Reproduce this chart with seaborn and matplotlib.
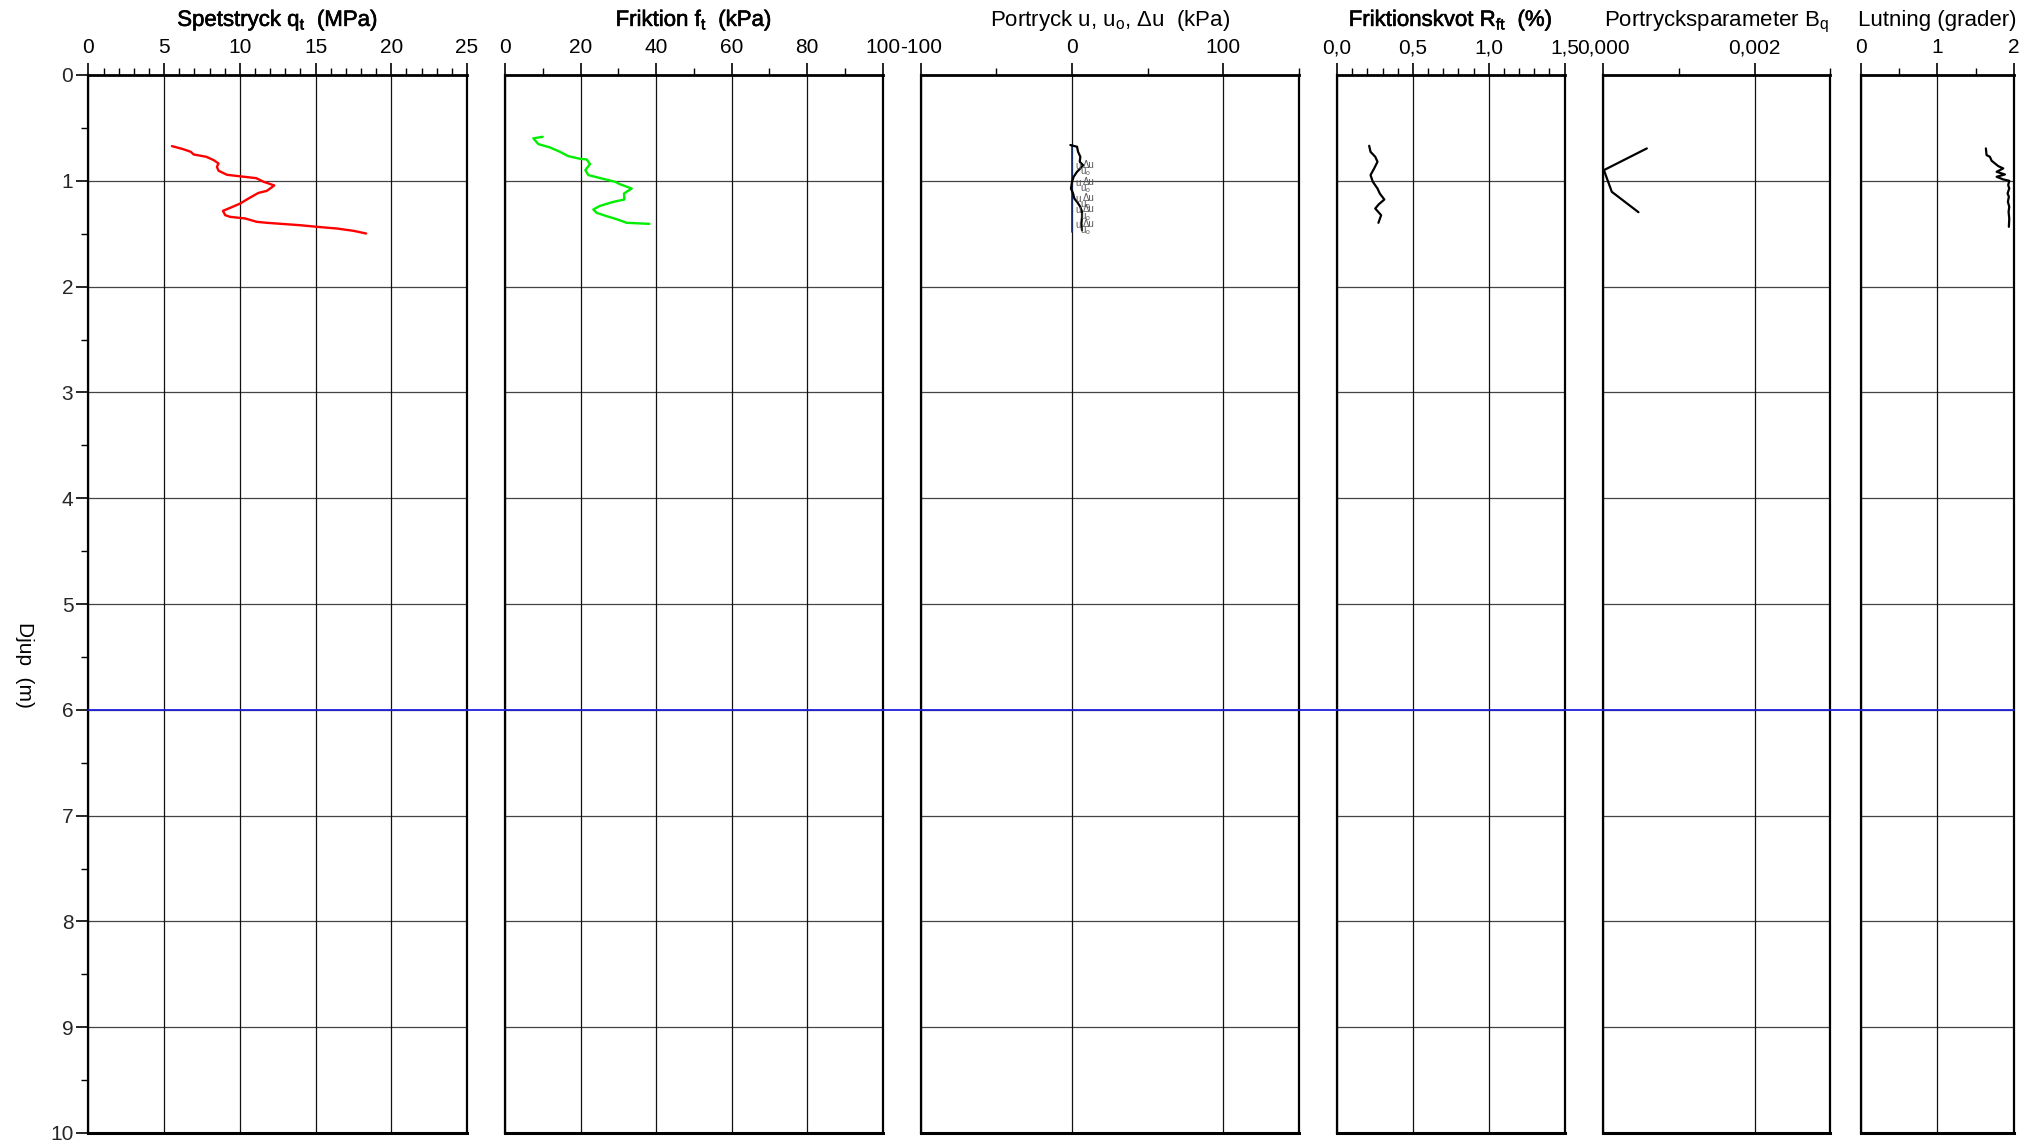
import numpy as np
import pandas as pd
import seaborn as sns
import matplotlib
matplotlib.use("Agg")
import matplotlib.pyplot as plt
from matplotlib.ticker import FixedLocator, FixedFormatter, NullFormatter
import matplotlib.transforms as mtransforms
import matplotlib.patheffects as pe

# ---------------- data ----------------
qt_depth = [0.672, 0.700, 0.726, 0.751, 0.773, 0.804, 0.836, 0.868, 0.905, 0.943, 0.956, 0.975,
            1.009, 1.044, 1.095, 1.114, 1.167, 1.215, 1.262, 1.284, 1.325, 1.341, 1.356, 1.388,
            1.397, 1.420, 1.435, 1.451, 1.473, 1.498]
qt_mpa = [5.51, 6.23, 6.76, 6.94, 7.78, 8.26, 8.59, 8.48, 8.59, 9.14, 9.91, 11.08,
          11.56, 12.27, 11.78, 11.23, 10.57, 10.02, 9.25, 8.88, 9.03, 9.36, 10.35, 11.12,
          11.78, 13.99, 15.09, 16.41, 17.51, 18.33]

ft_depth = [0.584, 0.599, 0.653, 0.685, 0.726, 0.767, 0.792, 0.798, 0.842, 0.899, 0.946, 0.978,
            1.009, 1.032, 1.073, 1.120, 1.177, 1.199, 1.237, 1.271, 1.303, 1.334, 1.363, 1.397, 1.407]
ft_kpa = [9.97, 7.50, 8.83, 11.92, 14.56, 16.77, 19.86, 21.62, 22.51, 21.27, 22.07, 25.60,
          29.13, 30.45, 33.54, 31.51, 31.60, 28.68, 25.15, 23.39, 24.27, 26.92, 29.57, 32.22, 38.22]

u_depth = [0.662, 0.678, 0.726, 0.773, 0.820, 0.852, 0.883, 0.915, 0.962, 1.009, 1.073, 1.120,
           1.167, 1.199, 1.246, 1.293, 1.341, 1.404, 1.467]
u_kpa = [-1.1, 3.3, 4.0, 5.5, 5.1, 7.3, 5.5, 3.3, 1.1, 0.0, -0.7, 0.7,
         1.5, 3.3, 5.5, 6.6, 6.6, 6.2, 6.6]
u0_depth = [0.662, 1.480]
u0_kpa = [0.0, 0.0]
u_label_depth = [0.86, 1.02, 1.17, 1.28, 1.42]

rf_depth = [0.669, 0.726, 0.773, 0.820, 0.883, 0.946, 1.009, 1.073, 1.120, 1.177, 1.221, 1.262, 1.325, 1.397]
rf_pct = [0.212, 0.221, 0.252, 0.267, 0.245, 0.221, 0.236, 0.267, 0.282, 0.312, 0.276, 0.252, 0.291, 0.273]

bq_depth = [0.694, 0.899, 1.104, 1.297]
bq_val = [0.000578, 0.0000122, 0.000116, 0.000468]

lut_depth = [0.694, 0.757, 0.773, 0.810, 0.836, 0.861, 0.883, 0.915, 0.940, 0.962, 0.987, 1.000,
             1.041, 1.072, 1.120, 1.151, 1.198, 1.246, 1.293, 1.356, 1.435]
lut_deg = [1.636, 1.645, 1.689, 1.711, 1.755, 1.798, 1.864, 1.777, 1.886, 1.777, 1.864, 1.943,
           1.929, 1.943, 1.921, 1.938, 1.925, 1.943, 1.934, 1.943, 1.938]

water_level = 6.0

titles = ["Spetstryck $\\mathregular{q_t}$  (MPa)",
          "Friktion $\\mathregular{f_t}$  (kPa)",
          "Portryck u, $\\mathregular{u_o}$, \u0394u  (kPa)",
          "Friktionskvot $\\mathregular{R_{ft}}$  (%)",
          "Portrycksparameter $\\mathregular{B_q}$",
          "Lutning (grader)"]
title_heavy = [True, True, False, True, False, False]
x_limits = [(0, 25), (0, 100), (-100, 150), (0, 1.5), (0, 0.003), (0, 2)]
x_major = [[0, 5, 10, 15, 20, 25], [0, 20, 40, 60, 80, 100], [-100, 0, 100],
           [0, 0.5, 1.0, 1.5], [0, 0.002], [0, 1, 2]]
x_major_labels = [["0", "5", "10", "15", "20", "25"], ["0", "20", "40", "60", "80", "100"],
                  ["-100", "0", "100"], ["0,0", "0,5", "1,0", "1,5"], ["0,000", "0,002"],
                  ["0", "1", "2"]]
x_minor = [list(range(0, 26)), list(range(0, 101, 10)), [-50, 50, 150],
           [i / 10 for i in range(16)], [0.001, 0.003], [0.5, 1.5]]
depth_major = list(range(0, 11))
depth_minor = [i / 2 for i in range(21)]
depth_labels = [str(d) for d in depth_major]

# ---------------- style ----------------
sns.set_theme(style="white")
plt.rcParams['font.family'] = ['Liberation Sans', 'DejaVu Sans']
plt.rcParams['mathtext.fontset'] = 'custom'
plt.rcParams['mathtext.rm'] = 'Liberation Sans'
plt.rcParams['mathtext.it'] = 'Liberation Sans:italic'

W, H = 2040, 1142
fig = plt.figure(figsize=(W / 100, H / 100), dpi=100, facecolor='white')
panel_px = [(88.5, 467.0), (505.0, 882.7), (920.7, 1299.0), (1337.0, 1564.6), (1603.0, 1830.4), (1861.3, 2013.6)]
top_px, bot_px = 75.0, 1133.0

axes = []
for (l, r) in panel_px:
    ax = fig.add_axes([l / W, 1 - bot_px / H, (r - l) / W, (bot_px - top_px) / H])
    axes.append(ax)

# ---------------- data lines ----------------
sns.lineplot(x=qt_mpa, y=qt_depth, sort=False, estimator=None, ax=axes[0],
             color='#ff0000', lw=1.7, zorder=5)
sns.lineplot(x=ft_kpa, y=ft_depth, sort=False, estimator=None, ax=axes[1],
             color='#00ee00', lw=1.7, zorder=5)
sns.lineplot(x=u0_kpa, y=u0_depth, sort=False, estimator=None, ax=axes[2],
             color='#10306a', lw=1.2, zorder=4)
sns.lineplot(x=u_kpa, y=u_depth, sort=False, estimator=None, ax=axes[2],
             color='black', lw=1.6, zorder=5)
sns.lineplot(x=rf_pct, y=rf_depth, sort=False, estimator=None, ax=axes[3],
             color='black', lw=1.6, zorder=5)
sns.lineplot(x=bq_val, y=bq_depth, sort=False, estimator=None, ax=axes[4],
             color='black', lw=1.6, zorder=5)
sns.lineplot(x=lut_deg, y=lut_depth, sort=False, estimator=None, ax=axes[5],
             color='black', lw=1.6, zorder=5)

for d in u_label_depth:
    axes[2].text(2.0, d, "u", fontsize=7, color='#555555', va='center', ha='left', zorder=6)
    axes[2].text(7.0, d - 0.01, "\u0394u", fontsize=7, color='#555555', va='center', ha='left', zorder=6)
    axes[2].text(5.0, d + 0.06, "$\\mathregular{u_o}$", fontsize=7, color='#555555',
                 va='center', ha='left', zorder=6)

for i, ax in enumerate(axes):
    ax.set_facecolor('none')
    ax.set_xlim(*x_limits[i])
    ax.set_ylim(10, 0)
    ax.set_xlabel("")
    ax.set_ylabel("")
    ax.xaxis.tick_top()
    ax.xaxis.set_major_locator(FixedLocator(x_major[i]))
    ax.xaxis.set_major_formatter(FixedFormatter(x_major_labels[i]))
    ax.xaxis.set_minor_locator(FixedLocator(x_minor[i]))
    ax.xaxis.set_minor_formatter(NullFormatter())
    ax.tick_params(axis='x', which='major', direction='out', length=8.4, width=1.2,
                   color='black', labelsize=15, pad=4.5, labelcolor='black',
                   top=True, bottom=False, labeltop=True, labelbottom=False)
    ax.tick_params(axis='x', which='minor', direction='out', length=5.0, width=1.0,
                   color='black', top=True, bottom=False)
    ax.yaxis.set_major_locator(FixedLocator(depth_major))
    ax.yaxis.set_minor_locator(FixedLocator(depth_minor))
    if i == 0:
        ax.yaxis.set_major_formatter(FixedFormatter(depth_labels))
        ax.yaxis.set_minor_formatter(NullFormatter())
        ax.tick_params(axis='y', which='major', direction='out', length=8.4, width=1.2,
                       color='black', labelsize=15, pad=2.5, left=True, labelleft=True)
        ax.tick_params(axis='y', which='minor', direction='out', length=5.0, width=1.0,
                       color='black', left=True)
    else:
        ax.tick_params(axis='y', which='both', left=False, right=False,
                       labelleft=False, labelright=False)
    ax.grid(False)
    for d in depth_major[1:-1]:
        ax.axhline(d, color='#444444', lw=0.9, zorder=1)
    for xv in x_major[i]:
        ax.axvline(xv, color='#111111', lw=0.9, zorder=1)
    for side, sp in ax.spines.items():
        sp.set_visible(True)
        sp.set_color('black')
        sp.set_linewidth(1.6)
    ax.spines['top'].set_linewidth(2.0)
    ax.spines['bottom'].set_linewidth(2.2)
    trans = mtransforms.blended_transform_factory(ax.transAxes, fig.transFigure)
    t = ax.text(0.5, 1 - 26 / H, titles[i], transform=trans, ha='center', va='baseline',
                fontsize=16, color='black')
    if title_heavy[i]:
        t.set_path_effects([pe.withStroke(linewidth=0.45, foreground='black')])

# ground-water level line spanning all panels (first axes drawn on top)
axes[0].set_zorder(10)
p0 = axes[0].get_position()
p5 = axes[-1].get_position()
span = (p5.x1 - p0.x0) / p0.width
axes[0].axhline(water_level, xmin=0, xmax=span, color='#1f1fe0', lw=1.3, clip_on=False, zorder=6)

# depth label
fig.text(24 / W, 1 - 665 / H, "Djup  (m)", rotation=270, ha='center', va='center',
         fontsize=15, color='black')

fig.savefig("out.png", dpi=100, facecolor='white')
